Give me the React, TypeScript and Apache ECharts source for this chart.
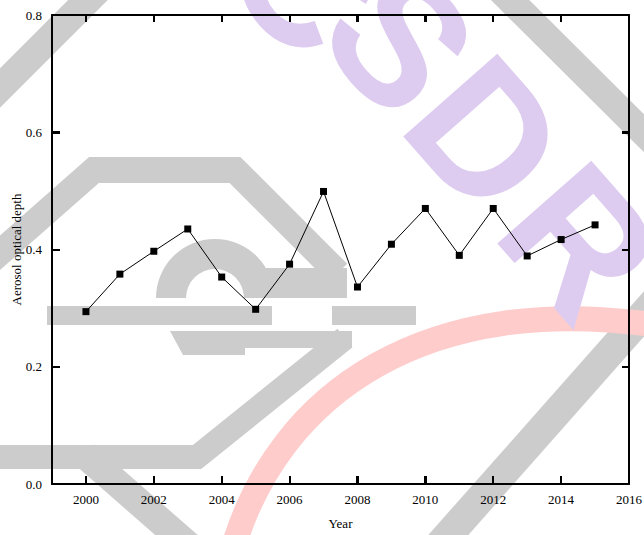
import React, { useEffect, useRef } from 'react';
import * as echarts from 'echarts';

// ---- data ----
const axisYears = ['1999', '2000', '2001', '2002', '2003', '2004', '2005', '2006', '2007', '2008', '2009', '2010', '2011', '2012', '2013', '2014', '2015', '2016'];
const years = ['2000', '2001', '2002', '2003', '2004', '2005', '2006', '2007', '2008', '2009', '2010', '2011', '2012', '2013', '2014', '2015'];
const aod = [0.294, 0.358, 0.397, 0.435, 0.353, 0.298, 0.375, 0.499, 0.336, 0.409, 0.470, 0.390, 0.470, 0.389, 0.417, 0.442];
const xTickYears = ['2000', '2002', '2004', '2006', '2008', '2010', '2012', '2014'];
const yTickValues = [0.2, 0.4, 0.6];
const yMin = 0;
const yMax = 0.8;
const yStep = 0.2;
const xTitle = 'Year';
const yTitle = 'Aerosol optical depth';
const watermarkLetters = ['C', 'S', 'D', 'R'];

const W = 644;
const H = 535;
const GRID = { left: 52, right: 15, top: 15, bottom: 51 };

export default function App() {
  const ref = useRef<HTMLDivElement>(null);

  useEffect(() => {
    const chart = echarts.init(ref.current as HTMLDivElement, null, { renderer: 'svg' });
    const serif = "'Liberation Serif', 'Times New Roman', serif";
    const gray = '#cccccc';
    const purple = '#ddccf0';
    const pink = '#ffcccc';
    const even = (_i: number, v: string) => Number(v) % 2 === 0;

    const letterPos = [
      [305, -21],
      [400, 40],
      [486, 135],
      [580, 242],
    ];

    const wm: any[] = [
      { type: 'line', shape: { x1: -40, y1: 128, x2: 128, y2: -40 }, style: { stroke: gray, lineWidth: 28 } },
      { type: 'line', shape: { x1: 480, y1: -30, x2: 700, y2: 189 }, style: { stroke: gray, lineWidth: 27 } },
      { type: 'line', shape: { x1: 420, y1: 567, x2: 690, y2: 262 }, style: { stroke: gray, lineWidth: 30 } },
      { type: 'polyline', shape: { points: [[-40, 288], [94, 170], [235, 170], [338, 273]] }, style: { stroke: gray, lineWidth: 26, fill: null, lineJoin: 'miter' } },
      { type: 'sector', shape: { cx: 215, cy: 298, r0: 29, r: 59, startAngle: Math.PI, endAngle: Math.PI * 2, clockwise: true }, style: { fill: gray } },
      { type: 'rect', shape: { x: 244, y: 268, width: 103, height: 30 }, style: { fill: gray } },
      { type: 'rect', shape: { x: 47, y: 306, width: 225, height: 19 }, style: { fill: gray } },
      { type: 'rect', shape: { x: 332, y: 306, width: 84, height: 19 }, style: { fill: gray } },
      { type: 'polygon', shape: { points: [[170, 331], [352, 331], [352, 348], [245, 348], [245, 355], [183, 355]] }, style: { fill: gray } },
      { type: 'polyline', shape: { points: [[-20, 457], [197, 457], [345, 338]] }, style: { stroke: gray, lineWidth: 24, fill: null, lineJoin: 'miter' } },
      { type: 'line', shape: { x1: 85, y1: 455, x2: 205, y2: 560 }, style: { stroke: gray, lineWidth: 28 } },
      {
        type: 'bezierCurve',
        shape: { x1: 232, y1: 552, cpx1: 278, cpy1: 390, cpx2: 430, cpy2: 290, x2: 662, y2: 326 },
        style: { stroke: pink, lineWidth: 25, fill: null },
      },
      ...watermarkLetters.map((t, i) => ({
        type: 'text',
        x: letterPos[i][0],
        y: letterPos[i][1],
        rotation: -0.85,
        style: {
          text: t,
          fill: purple,
          font: "bold 182px 'Liberation Sans', Arial, sans-serif",
          fontSize: 182,
          fontWeight: 'bold',
          fontFamily: "'Liberation Sans', Arial, sans-serif",
          align: 'center',
          verticalAlign: 'middle',
          textAlign: 'center',
          textVerticalAlign: 'middle',
        },
      })),
    ].map((e) => ({ ...e, z: -10, silent: true }));

    const axisLine = { show: true, onZero: false, lineStyle: { color: '#000', width: 2 } };
    const labelStyle = { color: '#000', fontSize: 13, fontFamily: serif };
    const tickLine = { color: '#000', width: 2 };

    chart.setOption({
      animation: false,
      backgroundColor: '#ffffff',
      grid: { ...GRID, containLabel: false, outerBoundsMode: 'none' },
      xAxis: [
        {
          type: 'category',
          data: axisYears,
          boundaryGap: false,
          position: 'bottom',
          axisLine,
          axisTick: { show: true, inside: true, length: 8, interval: even, lineStyle: tickLine },
          axisLabel: { ...labelStyle, margin: 9, interval: even },
          splitLine: { show: false },
          name: xTitle,
          nameLocation: 'middle',
          nameGap: 33,
          nameMoveOverlap: false,
          nameTextStyle: labelStyle,
        },
        {
          type: 'category',
          data: axisYears,
          boundaryGap: false,
          position: 'top',
          axisLine,
          axisTick: { show: true, inside: true, length: 7, interval: even, lineStyle: tickLine },
          axisLabel: { show: false },
          splitLine: { show: false },
        },
      ],
      yAxis: [
        {
          type: 'value',
          min: yMin,
          max: yMax,
          interval: yStep,
          position: 'left',
          axisLine,
          axisTick: { show: true, inside: true, length: 8, lineStyle: tickLine },
          axisLabel: { ...labelStyle, margin: 10, formatter: (v: number) => v.toFixed(1) },
          splitLine: { show: false },
          name: yTitle,
          nameLocation: 'middle',
          nameGap: 29,
          nameMoveOverlap: false,
          nameTextStyle: labelStyle,
        },
        {
          type: 'value',
          min: yMin,
          max: yMax,
          interval: yStep,
          position: 'right',
          axisLine,
          axisTick: { show: true, inside: true, length: 7, lineStyle: tickLine },
          axisLabel: { show: false },
          splitLine: { show: false },
        },
      ],
      series: [
        {
          type: 'line',
          xAxisIndex: 0,
          yAxisIndex: 0,
          data: years.map((y, i) => [y, aod[i]]),
          symbol: 'rect',
          symbolSize: 7,
          itemStyle: { color: '#000' },
          lineStyle: { color: '#000', width: 1 },
          z: 5,
        },
      ],
    });

    // pixel position of a (category index, value) pair: from the chart's axes, with a layout fallback
    const lastIdx = axisYears.length - 1;
    const plotW = W - GRID.left - GRID.right;
    const plotH = H - GRID.top - GRID.bottom;
    const toPx = (ci: number, v: number): number[] => {
      let p: any = null;
      try {
        p = chart.convertToPixel({ xAxisIndex: 0, yAxisIndex: 0 } as any, [ci, v]);
      } catch (e) {
        p = null;
      }
      if (p && isFinite(p[0]) && isFinite(p[1])) return [Math.round(p[0]), Math.round(p[1])];
      return [
        Math.round(GRID.left + (ci / lastIdx) * plotW),
        Math.round(H - GRID.bottom - ((v - yMin) / (yMax - yMin)) * plotH),
      ];
    };

    const tickEls: any[] = [];
    const tickStyle = { stroke: '#000', lineWidth: 2, fill: null };
    const addTick = (a: number[], b: number[]) =>
      tickEls.push({ type: 'polyline', z: 50, zlevel: 0, silent: true, shape: { points: [a, b] }, style: tickStyle });

    xTickYears.forEach((yr) => {
      const ci = axisYears.indexOf(yr);
      const b = toPx(ci, yMin);
      const t = toPx(ci, yMax);
      addTick([b[0], b[1]], [b[0], b[1] - 8]);
      addTick([t[0], t[1]], [t[0], t[1] + 7]);
    });
    yTickValues.forEach((v) => {
      const l = toPx(0, v);
      const r = toPx(lastIdx, v);
      addTick([l[0], l[1]], [l[0] + 8, l[1]]);
      addTick([r[0], r[1]], [r[0] - 7, r[1]]);
    });

    chart.setOption({ graphic: [...wm, ...tickEls] });

    return () => {
      chart.dispose();
    };
  }, []);

  return <div ref={ref} style={{ position: 'fixed', left: 0, top: 0, width: W, height: H }} />;
}
